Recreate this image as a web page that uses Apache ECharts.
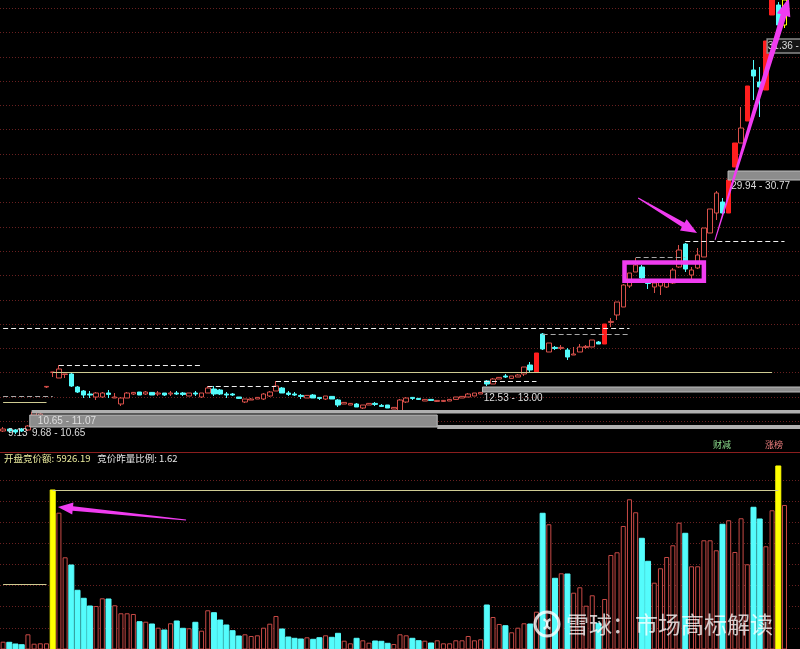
<!DOCTYPE html>
<html><head><meta charset="utf-8">
<script src="https://cdn.jsdelivr.net/npm/echarts@6/dist/echarts.min.js"></script>
<style>html,body{margin:0;padding:0;background:#000}#c{width:800px;height:649px}</style>
</head><body><div id="c"></div>
<script>
// ---- data ----
const days = Array.from({length: 129}, (_, i) => 'D' + (i + 1)); // last two are empty future slots
const open = [
10.45,10.55,10.50,10.55,10.50,11.25,11.00,12.65,13.38,13.10,
13.28,13.30,12.65,12.45,12.30,12.15,12.15,12.35,12.10,11.80,
12.10,12.30,12.40,12.30,12.38,12.30,12.35,12.30,12.35,12.35,
12.20,12.35,12.15,12.35,12.55,12.50,12.30,12.30,12.15,11.90,
12.00,12.05,12.05,12.20,12.45,12.60,12.35,12.30,12.23,12.10,
12.25,12.13,12.05,12.18,12.00,11.80,11.75,11.80,11.60,11.75,
11.83,11.73,11.75,11.55,11.45,11.90,12.13,12.08,11.95,12.03,
11.93,11.93,11.95,12.03,12.10,12.15,12.20,12.30,12.95,12.80,
13.05,13.20,13.08,13.15,13.30,13.75,13.40,15.30,14.40,14.63,
14.58,14.50,14.25,14.40,14.63,14.65,14.90,14.80,15.88,16.25,
16.65,17.70,18.40,18.65,17.85,17.65,17.70,17.65,17.85,18.65,
19.80,18.25,18.60,19.15,20.35,21.35,21.90,21.35,23.65,24.85,
25.95,28.50,27.90,27.50,31.25,31.75,30.75];
const close = [
10.55,10.45,10.40,10.45,10.70,11.40,11.30,12.68,13.40,13.55,
13.30,12.70,12.40,12.25,12.25,12.35,12.35,12.28,12.15,12.10,
12.35,12.38,12.25,12.40,12.25,12.35,12.25,12.35,12.30,12.28,
12.35,12.30,12.35,12.60,12.30,12.30,12.25,12.25,12.08,12.05,
12.05,12.13,12.30,12.40,12.70,12.35,12.28,12.25,12.18,12.23,
12.10,12.08,12.20,12.05,11.75,11.88,11.83,11.65,11.75,11.83,
11.78,11.68,11.60,11.63,12.00,12.10,12.08,12.03,12.03,11.98,
11.98,11.98,12.03,12.15,12.18,12.30,12.35,12.38,12.80,13.05,
13.13,13.15,13.20,13.25,13.65,13.50,14.35,14.55,14.85,14.58,
14.63,14.15,14.30,14.65,14.68,15.00,14.80,15.80,15.93,16.90,
17.75,18.35,18.75,18.10,17.83,17.85,17.90,18.00,18.50,19.50,
18.55,18.50,19.25,20.60,21.55,22.35,21.35,23.00,24.85,25.60,
27.70,28.20,27.65,29.95,32.25,30.75,32.00];
const low = [
10.40,10.35,10.30,10.40,10.45,11.20,10.95,12.60,13.15,13.10,
13.10,12.65,12.35,12.10,12.10,12.00,12.10,12.10,12.10,11.70,
12.10,12.25,12.25,12.25,12.25,12.20,12.20,12.20,12.25,12.20,
12.20,12.20,12.10,12.35,12.20,12.25,12.10,12.20,12.05,11.85,
12.00,12.05,12.00,12.15,12.45,12.35,12.20,12.20,12.05,12.10,
12.10,12.00,12.00,12.05,11.65,11.80,11.75,11.65,11.55,11.75,
11.70,11.65,11.60,11.55,11.45,11.85,12.00,12.00,11.95,11.95,
11.90,11.90,11.95,12.00,12.10,12.15,12.20,12.30,12.70,12.80,
13.05,13.10,13.08,13.15,13.20,13.40,13.40,14.50,14.40,14.50,
14.50,14.00,14.25,14.40,14.55,14.65,14.80,14.80,15.65,16.00,
16.65,17.60,18.40,17.85,17.55,17.35,17.25,17.60,17.80,18.60,
18.40,17.85,18.55,19.15,20.35,21.00,21.15,21.35,23.65,24.85,
25.95,27.00,26.15,27.50,31.25,30.60,30.60];
const high = [
10.65,10.60,10.55,10.60,10.75,11.45,11.35,12.70,13.40,13.75,
13.30,13.40,12.70,12.50,12.45,12.40,12.40,12.50,12.35,12.15,
12.40,12.40,12.40,12.45,12.40,12.45,12.35,12.45,12.45,12.40,
12.35,12.45,12.35,12.70,12.70,12.55,12.40,12.35,12.15,12.05,
12.10,12.15,12.35,12.45,12.95,12.65,12.45,12.40,12.30,12.25,
12.30,12.15,12.20,12.20,12.05,11.90,11.85,11.85,11.75,11.85,
11.90,11.80,11.75,11.65,12.05,12.15,12.15,12.10,12.05,12.05,
12.00,12.00,12.05,12.15,12.20,12.35,12.35,12.40,13.00,13.10,
13.15,13.30,13.20,13.30,13.65,13.90,14.35,15.35,14.85,14.70,
14.75,14.60,14.65,14.80,14.75,15.00,14.95,15.80,16.10,16.90,
17.80,18.35,19.10,18.75,17.85,17.90,17.95,18.05,18.60,19.75,
19.85,18.65,19.60,20.60,21.55,22.45,22.10,23.00,24.85,26.65,
27.70,29.00,28.65,29.95,32.25,31.90,32.10];
const volume = [
4.97,4.91,4.74,4.67,5.71,4.77,4.81,4.81,20.14,17.87,
13.41,12.64,10.11,9.31,8.54,8.54,9.31,9.24,8.61,7.81,
7.81,7.74,6.97,6.97,6.74,6.37,6.14,6.81,7.04,6.31,
6.31,6.91,6.07,8.11,7.87,7.14,6.64,6.07,5.54,5.71,
5.54,5.61,6.37,6.77,7.54,6.24,5.44,5.31,5.24,5.41,
5.21,5.37,5.61,5.41,5.81,5.07,4.81,5.31,5.11,4.87,
5.04,5.01,4.81,4.74,5.71,5.61,5.31,5.07,5.07,4.84,
5.11,4.81,4.81,5.11,5.11,5.54,5.11,5.21,8.64,7.44,
6.74,6.57,5.91,6.37,6.81,6.74,7.97,17.81,16.71,11.31,
11.81,11.74,9.87,10.41,8.57,9.61,6.81,9.24,13.64,13.91,
16.54,19.21,17.91,15.31,13.01,10.87,12.31,13.44,14.61,16.87,
15.81,12.51,12.51,15.11,15.11,14.11,16.71,17.11,13.94,17.31,
12.71,18.41,17.24,14.51,18.11,22.54,18.64];
const limitUpDays = [86, 97, 117, 118, 120, 123, 124];
const auctionDays = [8, 125];      // highlighted volume days
const lastDay = 126;               // today's candle
// price levels (dashed): [fromDay, toDay, price, kind]
const levels = [
  [9, 32, 13.75, 'w'], [0, 8, 12.2, 'g'], [33, 44, 12.7, 'w'], [44, 86, 12.95, 'w'],
  [0, 101, 15.6, 'w'], [87, 101, 15.3, 'g'], [102, 110, 19.15, 'g'], [110, 126, 19.95, 'w']
];
const priceRef = [[0, 7, 11.9], [8, 124, 13.4]];
const volRef = [[0, 7, 10.74], [8, 125, 20.14]];
// chip zones: [fromDay, toDay (null = to edge), low, high, kind]
const zones = [
  [4.6, null, 11.33, 11.5, 'strip'], [4.3, 70, 10.65, 11.25, 'fill'], [70, null, 10.55, 10.75, 'strip'],
  [77.3, null, 12.40, 12.65, 'fill'], [116.9, null, 23.0, 23.45, 'fill'], [123.2, null, 29.35, 30.05, 'box']
];
const zoneLabels = [
  ['10.65 - 11.07', 5.6, 10.95], ['9.68 - 10.65', 4.65, 10.33], ['9.13', 0.8, 10.33],
  ['12.53 - 13.00', 77.5, 12.08], ['29.94 - 30.77', 117.4, 22.68], ['31.36 -', 123.3, 29.68]
];
const auctionAmount = '5926.19', auctionRatio = '1.62';

// ---- styles ----
const UP = '#d8504a', DOWN = '#54fcfc', SOLID = '#ff1e1e', GRIDC = '#682020', KHAKI = '#cfcb92', MAG = '#f03cf0';

const candleData = open.map((o, i) => {
  const item = { value: [o, close[i], low[i], high[i]] };
  if (limitUpDays.includes(i)) item.itemStyle = { color: SOLID, borderColor: SOLID };
  if (i === lastDay) item.itemStyle = { color: '#000', borderColor: '#ffff00' };
  return item;
});
const volData = volume.map((v, i) => {
  let st;
  if (auctionDays.includes(i)) st = { color: '#ffff00', borderColor: '#ffff00' };
  else if (close[i] >= open[i]) st = { color: '#000', borderColor: '#c84a46', borderWidth: 1 };
  else st = { color: DOWN, borderColor: DOWN };
  return { value: v, itemStyle: st };
});
const levelLines = levels.map(l => [
  { coord: [l[0], l[2]], lineStyle: { color: l[3] === 'w' ? '#f0f0f0' : '#a8a8a8', type: [5, 3], width: 1.2 } },
  { coord: [l[1], l[2]] }
]).concat(priceRef.map(l => [
  { coord: [l[0], l[2]], lineStyle: { color: KHAKI, type: 'solid', width: 1.2 } },
  { coord: [l[1], l[2]] }
]));
const volLines = volRef.map(l => [
  { coord: [l[0], l[2]], lineStyle: { color: KHAKI, type: 'solid', width: 1.2 } },
  { coord: [l[1], l[2]] }
]);

const chart = echarts.init(document.getElementById('c'));
const splitStyle = { show: true, showMinLine: false, showMaxLine: true, lineStyle: { color: GRIDC, type: [1, 2], width: 1 } };
chart.setOption({
  backgroundColor: '#000',
  animation: false,
  grid: [
    { left: -1, right: 0, top: 8.2, bottom: 203.4 },
    { left: -1, right: 0, top: 458.8, bottom: 0 }
  ],
  xAxis: [
    { type: 'category', data: days, gridIndex: 0, show: false },
    { type: 'category', data: days, gridIndex: 1, show: false }
  ],
  yAxis: [
    { type: 'value', gridIndex: 0, min: 9.72, max: 31.59, interval: 1.215,
      axisLine: { show: false }, axisTick: { show: false }, axisLabel: { show: false }, splitLine: splitStyle },
    { type: 'value', gridIndex: 1, min: 4.24, max: 23.257, interval: 2.113,
      axisLine: { show: false }, axisTick: { show: false }, axisLabel: { show: false },
      splitLine: Object.assign({}, splitStyle, { showMaxLine: false }) }
  ],
  series: [
    { type: 'candlestick', xAxisIndex: 0, yAxisIndex: 0, data: candleData, barWidth: 5, clip: false,
      itemStyle: { color: '#000', color0: DOWN, borderColor: UP, borderColor0: DOWN, borderWidth: 1 },
      markLine: { silent: true, symbol: ['none', 'none'], label: { show: false }, animation: false, data: levelLines } },
    { type: 'bar', xAxisIndex: 1, yAxisIndex: 1, data: volData, barWidth: 5,
      markLine: { silent: true, symbol: ['none', 'none'], label: { show: false }, animation: false, data: volLines } }
  ]
});

// ---- annotations positioned from data coordinates ----
function pt(g, i, v) {
  const a = chart.convertToPixel({ gridIndex: g }, [0, v]);
  const b = chart.convertToPixel({ gridIndex: g }, [1, v]);
  return [a[0] + (b[0] - a[0]) * i, a[1]];
}
function arrow(T, P, w0, w1, hl, hw) {
  const dx = P[0] - T[0], dy = P[1] - T[1], L = Math.hypot(dx, dy);
  const u = [dx / L, dy / L], n = [-u[1], u[0]];
  const B = [P[0] - u[0] * hl, P[1] - u[1] * hl];
  const o = (p, s) => [p[0] + n[0] * s, p[1] + n[1] * s];
  return [o(T, w0 / 2), o(B, w1 / 2), o(B, hw / 2), P, o(B, -hw / 2), o(B, -w1 / 2), o(T, -w0 / 2)];
}
const W = 800;
const g = [];
zones.forEach(z => {
  const a = pt(0, z[0], z[3]), b = pt(0, z[0], z[2]);
  const xr = z[1] == null ? W + 2 : pt(0, z[1], z[2])[0];
  const shape = { x: a[0], y: a[1], width: xr - a[0], height: b[1] - a[1] };
  if (z[4] === 'strip') g.push({ type: 'rect', z: 3, shape, style: { fill: '#b0b0b0' } });
  else if (z[4] === 'fill') g.push({ type: 'rect', z: 3, shape, style: { fill: '#8c8c8c', stroke: '#bdbdbd', lineWidth: 1 } });
  else g.push({ type: 'rect', z: 3, shape, style: { fill: '#151515', stroke: '#8a8a8a', lineWidth: 1.5 } });
});
zoneLabels.forEach(t => {
  const p = pt(0, t[1], t[2]);
  g.push({ type: 'text', z: 4, x: p[0], y: p[1], style: { text: t[0], fill: '#dedede', font: '10px "Liberation Sans", Arial', textVerticalAlign: 'middle' } });
});
// magenta box
const b0 = pt(0, 100.2, 18.88), b1 = pt(0, 113.0, 17.96);
g.push({ type: 'rect', z: 10, shape: { x: b0[0], y: b0[1], width: b1[0] - b0[0], height: b1[1] - b0[1] }, style: { fill: 'none', stroke: MAG, lineWidth: 4.5 } });
// arrows
g.push({ type: 'polygon', z: 10, shape: { points: arrow(pt(0, 102.4, 22.1), pt(0, 111.9, 20.35), 1, 5, 16, 13) }, style: { fill: MAG } });
g.push({ type: 'polygon', z: 10, shape: { points: arrow(pt(0, 114.8, 20.0), pt(0, 126.7, 32.1), 1, 6, 18, 14) }, style: { fill: MAG } });
g.push({ type: 'polygon', z: 10, shape: { points: arrow(pt(1, 29.5, 17.14), pt(1, 8.84, 18.44), 1, 4.5, 15, 12) }, style: { fill: MAG } });
// panel separator and headers
g.push({ type: 'line', z: 5, shape: { x1: 0, y1: 452.5, x2: W, y2: 452.5 }, style: { stroke: '#8b1e1e', lineWidth: 1.2 } });
g.push({ type: 'text', z: 5, x: 4, y: 458.5, style: {
  text: '{a|开盘竞价额: ' + auctionAmount + '}  {b|竞价昨量比例: ' + auctionRatio + '}',
  textVerticalAlign: 'middle',
  rich: { a: { fill: '#ecec9e', font: '9.5px "Noto Sans CJK SC"' }, b: { fill: '#e6e6e6', font: '9.5px "Noto Sans CJK SC"' } } } });
g.push({ type: 'text', z: 5, x: 713, y: 445, style: { text: '财减', fill: '#8fe08f', font: '9px "Noto Sans CJK SC"', textVerticalAlign: 'middle' } });
g.push({ type: 'text', z: 5, x: 765, y: 445, style: { text: '涨榜', fill: '#f08080', font: '9px "Noto Sans CJK SC"', textVerticalAlign: 'middle' } });
// watermark
g.push({ type: 'circle', z: 20, shape: { cx: 547, cy: 624, r: 12 }, style: { fill: 'none', stroke: 'rgba(255,255,255,0.8)', lineWidth: 3 } });
g.push({ type: 'arc', z: 20, shape: { cx: 542, cy: 624, r: 5, startAngle: -Math.PI / 2.5, endAngle: Math.PI / 2.5 }, style: { fill: 'none', stroke: 'rgba(255,255,255,0.8)', lineWidth: 2.5 } });
g.push({ type: 'arc', z: 20, shape: { cx: 552, cy: 624, r: 5, startAngle: Math.PI - Math.PI / 2.5, endAngle: Math.PI + Math.PI / 2.5 }, style: { fill: 'none', stroke: 'rgba(255,255,255,0.8)', lineWidth: 2.5 } });
g.push({ type: 'text', z: 20, x: 566, y: 624, style: { text: '雪球：市场高标解读', fill: 'rgba(255,255,255,0.78)', font: '23px "Noto Sans CJK SC"', textVerticalAlign: 'middle' } });
chart.setOption({ graphic: { elements: g } });
</script>
</body></html>
